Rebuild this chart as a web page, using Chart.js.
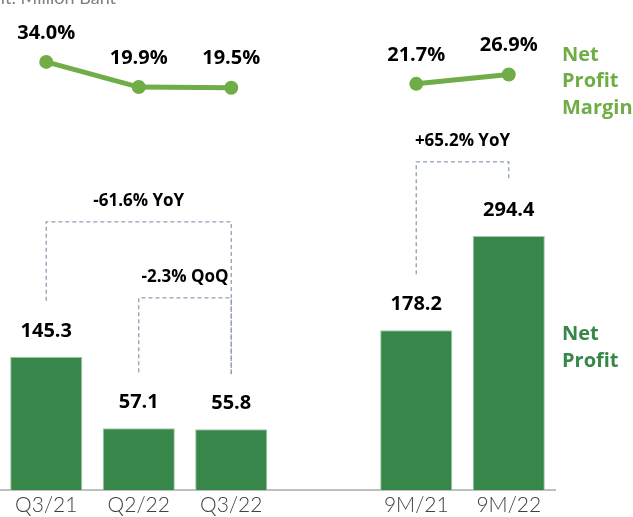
<!DOCTYPE html>
<html>
<head>
<meta charset="utf-8">
<script src="https://cdn.jsdelivr.net/npm/chart.js@4.4.0/dist/chart.umd.min.js"></script>
<style>
  body { margin: 0; background: #fff; }
  canvas { display: block; }
</style>
</head>
<body>
<canvas id="profit-chart" width="633" height="517"></canvas>
<script>
// Chart data
var periods = ["Q3/21", "Q2/22", "Q3/22", "", "9M/21", "9M/22"];
var netProfit = [145.3, 57.1, 55.8, null, 178.2, 294.4];
var netProfitMargin = [34.0, 19.9, 19.5, null, 21.7, 26.9];

// change brackets: from index, to index, level (in million baht), text
var bracketFrom = [0, 1, 4];
var bracketTo = [2, 2, 5];
var bracketLevel = [312, 218, 386];
var bracketText = ["-61.6% YoY", "-2.3% QoQ", "+65.2% YoY"];

var barGreen = "#37864a";
var lineGreen = "#70ad47";
var labelFont = "bold 20px 'Open Sans'";

// draws value labels, change brackets and the side texts
var annotations = {
    id: "annotations",
    afterDatasetsDraw: function(chart) {
        var ctx = chart.ctx;
        var x = chart.scales.x;
        var y = chart.scales.y;
        var y2 = chart.scales.y2;
        ctx.save();

        // unit note (cut off at the top like the source)
        ctx.font = "18px Lato";
        ctx.fillStyle = "#808080";
        ctx.textAlign = "right";
        ctx.textBaseline = "alphabetic";
        ctx.fillText("Unit: Million Baht", 116, 4);

        ctx.font = labelFont;
        ctx.fillStyle = "#000";
        ctx.textAlign = "center";
        ctx.textBaseline = "middle";
        for (var i = 0; i < periods.length; i++) {
            if (netProfit[i] !== null) {
                ctx.fillText(netProfit[i].toFixed(1), x.getPixelForValue(i), y.getPixelForValue(netProfit[i]) - 26);
            }
            if (netProfitMargin[i] !== null) {
                ctx.fillText(netProfitMargin[i].toFixed(1) + "%", x.getPixelForValue(i), y2.getPixelForValue(netProfitMargin[i]) - 29);
            }
        }

        // dashed brackets
        ctx.strokeStyle = "#8f9fb5";
        ctx.lineWidth = 1.3;
        ctx.setLineDash([4, 3]);
        for (var b = 0; b < bracketFrom.length; b++) {
            var x1 = x.getPixelForValue(bracketFrom[b]);
            var x2 = x.getPixelForValue(bracketTo[b]);
            var top = y.getPixelForValue(bracketLevel[b]);
            var bot1 = y.getPixelForValue(netProfit[bracketFrom[b]]) - 56;
            var bot2 = y.getPixelForValue(netProfit[bracketTo[b]]) - 55;
            ctx.beginPath();
            ctx.moveTo(x1, bot1);
            ctx.lineTo(x1, top);
            ctx.lineTo(x2, top);
            ctx.lineTo(x2, bot2);
            ctx.stroke();
        }
        ctx.setLineDash([]);
        ctx.font = "bold 17px 'Open Sans'";
        for (var b = 0; b < bracketFrom.length; b++) {
            var mid = (x.getPixelForValue(bracketFrom[b]) + x.getPixelForValue(bracketTo[b])) / 2;
            ctx.fillText(bracketText[b], mid, y.getPixelForValue(bracketLevel[b]) - 21);
        }

        // series names on the right
        ctx.font = labelFont;
        ctx.textAlign = "left";
        var sx = chart.chartArea.right + 7;
        ctx.fillStyle = lineGreen;
        ["Net", "Profit", "Margin"].forEach(function(t, k) {
            ctx.fillText(t, sx, 55 + k * 26.5);
        });
        ctx.fillStyle = barGreen;
        ["Net", "Profit"].forEach(function(t, k) {
            ctx.fillText(t, sx, 334 + k * 27);
        });
        ctx.restore();
    }
};

var ctx = document.getElementById("profit-chart");

var chartData = {
    labels: periods,
    datasets: [{
        type: "line",
        label: "Net Profit Margin",
        data: netProfitMargin,
        yAxisID: "y2",
        borderColor: lineGreen,
        backgroundColor: lineGreen,
        borderWidth: 5,
        pointRadius: 7,
        pointBackgroundColor: lineGreen,
        pointBorderWidth: 0,
        tension: 0,
        spanGaps: false,
        order: 0
    }, {
        type: "bar",
        label: "Net Profit",
        data: netProfit,
        yAxisID: "y",
        base: -19.2,
        backgroundColor: barGreen,
        borderColor: "#a6c9a6",
        borderWidth: 1,
        borderSkipped: "bottom",
        categoryPercentage: 1,
        barPercentage: 0.78,
        order: 1
    }]
};

var config = {
    data: chartData,
    options: {
        responsive: false,
        animation: false,
        layout: { autoPadding: false, padding: { left: 0, right: 78, top: 0, bottom: -4 } },
        plugins: {
            legend: { display: false },
            tooltip: { enabled: false }
        },
        scales: {
            x: {
                grid: { display: false, drawTicks: false },
                border: { display: true, color: "#bfbfbf", width: 2 },
                ticks: {
                    padding: 5,
                    color: "#404040",
                    font: { family: "Lato", size: 21, weight: 300, lineHeight: 1 }
                }
            },
            y: {
                display: false,
                min: -19.2,
                max: 586
            },
            y2: {
                display: false,
                min: -206,
                max: 68.7
            }
        }
    },
    plugins: [annotations]
};

var profitChart = new Chart(ctx, config);
</script>
</body>
</html>
